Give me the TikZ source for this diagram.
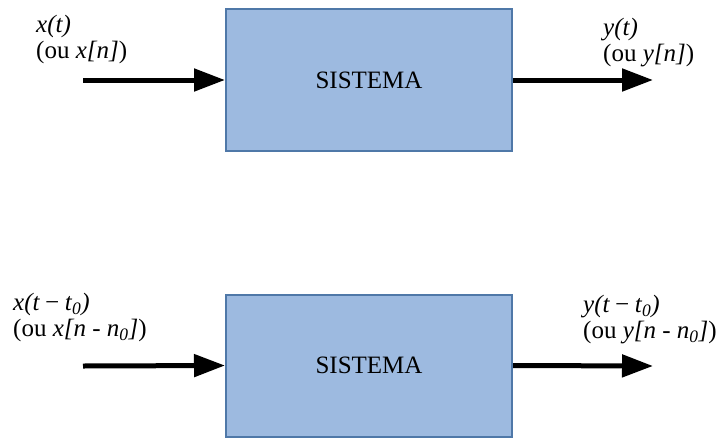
\documentclass[tikz,border=0pt]{standalone}
\usepackage{fontspec}
\setmainfont{Liberation Serif}
\usetikzlibrary{arrows.meta,positioning}
\tikzset{>={Triangle[length=31pt,width=22pt]}}
\definecolor{boxfill}{HTML}{9DBAE0}
\definecolor{boxline}{HTML}{4F78A8}
\tikzset{sistbox/.style={draw=boxline,fill=boxfill,line width=2pt,minimum width=286pt,minimum height=142pt,font=\fontsize{25}{26}\selectfont},
  sinal/.style={align=left,inner sep=0pt,anchor=north west,font=\fontsize{25}{26}\selectfont},
  seta/.style={->,line width=5pt}}

\begin{document}
\begin{tikzpicture}[x=1pt,y=-1pt]
\useasboundingbox (0,0) rectangle (719,439);
% sistema original
\node[sistbox] (sistA) at (369,80) {SISTEMA};
\coordinate (inA) at (83,80);
\coordinate (outA) at (653,80);
\draw[seta] (inA) -- (sistA.west);
\draw[seta] (sistA.east) -- (outA);
\node[sinal] (xA) at (36,15) {\textit{x(t)}\\(ou \textit{x[n]})};
\node[sinal] (yA) at (603,18) {\textit{y(t)}\\(ou \textit{y[n]})};
% sistema deslocado
\node[sistbox] (sistB) at (369,365.5) {SISTEMA};
\coordinate (inB) at (83,366);
\coordinate (outB) at (653,366);
\draw[seta] (inB) -- (sistB.west);
\draw[seta] (sistB.east) -- (outB);
\node[sinal] (xB) at (13,293) {\textit{x(t\,−\,t}\textsubscript{\textit{0}}\textit{)}\\(ou \textit{x[n - n}\textsubscript{\textit{0}}\textit{]})};
\node[sinal] (yB) at (583,295) {\textit{y(t\,−\,t}\textsubscript{\textit{0}}\textit{)}\\(ou \textit{y[n - n}\textsubscript{\textit{0}}\textit{]})};
\end{tikzpicture}
\end{document}
